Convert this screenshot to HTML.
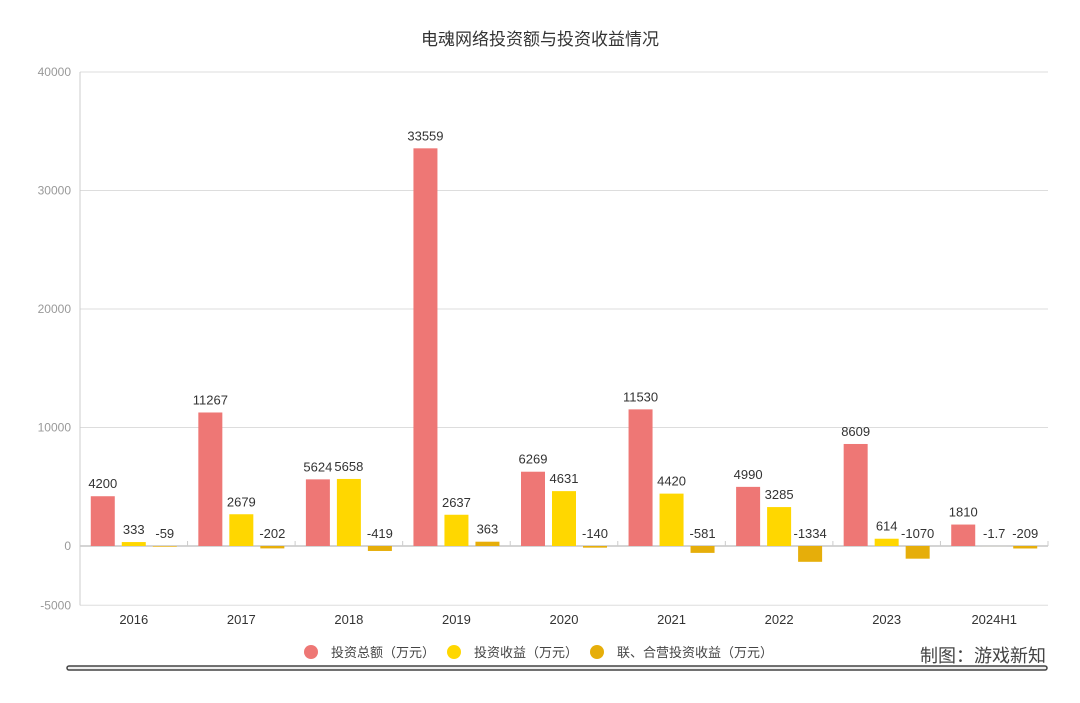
<!DOCTYPE html>
<html><head><meta charset="utf-8"><style>
body{margin:0;background:#fff;width:1080px;height:698px;overflow:hidden;font-family:"Liberation Sans","Noto Sans CJK SC",sans-serif}
</style></head><body>
<svg id="c" width="1080" height="698" xmlns="http://www.w3.org/2000/svg">
<text x="540" y="45" text-anchor="middle" font-size="17" fill="#333">电魂网络投资额与投资收益情况</text>
<g id="grid"></g><g id="bars"></g><g id="labels"></g>
<g font-size="13" fill="#444">
<circle cx="311" cy="652" r="7" fill="#EE7775"/>
<text x="331" y="657">投资总额（万元）</text>
<circle cx="454" cy="652" r="7" fill="#FFD700"/>
<text x="474" y="657">投资收益（万元）</text>
<circle cx="597" cy="652" r="7" fill="#E6AE0A"/>
<text x="617" y="657">联、合营投资收益（万元）</text>
</g>
<text x="1046" y="662" text-anchor="end" font-size="18" fill="#444">制图：游戏新知</text>
<rect x="67" y="666" width="980" height="4" rx="2" fill="#eee" stroke="#444" stroke-width="1.5"/>
</svg>
<script>
const categories=["2016","2017","2018","2019","2020","2021","2022","2023","2024H1"];
const totalValues=[4200,11267,5624,33559,6269,11530,4990,8609,1810];
const incomeValues=[333,2679,5658,2637,4631,4420,3285,614,-1.7];
const jvValues=[-59,-202,-419,363,-140,-581,-1334,-1070,-209];
const yTicks=[-5000,0,10000,20000,30000,40000];
const ns="http://www.w3.org/2000/svg";
const x0=80,x1=1048,yTop=72,yZero=546;
const y=v=>yZero-v*(yZero-yTop)/40000;
const bw=(x1-x0)/categories.length;
const xc=i=>x0+bw*(i+0.5);
function mk(tag,attrs,parent){const e=document.createElementNS(ns,tag);for(const k in attrs)e.setAttribute(k,attrs[k]);document.getElementById(parent).appendChild(e);return e;}
yTicks.forEach(t=>{
 const l=mk('line',{x1:x0,x2:x1,y1:y(t),y2:y(t),stroke:t===0?'#aaa':'#ddd','stroke-width':1},'grid');
 
 
 const tx=mk('text',{x:x0-9,y:y(t)+4,'text-anchor':'end','font-size':12,fill:'#999'},'grid');
 tx.textContent=t;
 
 
});
const ax=mk('line',{x1:x0,x2:x0,y1:yTop,y2:y(-5000),stroke:'#ccc'},'grid');


for(let i=0;i<=categories.length;i++){
 const tk=mk('line',{x1:x0+bw*i,x2:x0+bw*i,y1:yZero-5,y2:yZero,stroke:'#ccc'},'grid');
 
 
}
categories.forEach((c,i)=>{
 const t=mk('text',{x:xc(i),y:624,'text-anchor':'middle','font-size':13,fill:'#333'},'grid');
 t.textContent=c;
 
 
});
const series=[[totalValues,'#EE7775',-31,'bar-total'],[incomeValues,'#FFD700',0,'bar-income'],[jvValues,'#E6AE0A',31,'bar-jv']];
series.forEach(([vals,col,off,name])=>{
 vals.forEach((v,i)=>{
  const cx=xc(i)+off;
  const top=Math.min(y(v),yZero),h=Math.abs(y(v)-yZero);
  const r=mk('rect',{x:cx-12,y:top,width:24,height:h,fill:col},'bars');
  
  
  const ly=(v>=0?y(v):yZero)-8;
  const t=mk('text',{x:cx,y:ly,'text-anchor':'middle','font-size':13,fill:'#333'},'labels');
  t.textContent=v;
  
  
 });
});
</script>
</body></html>
